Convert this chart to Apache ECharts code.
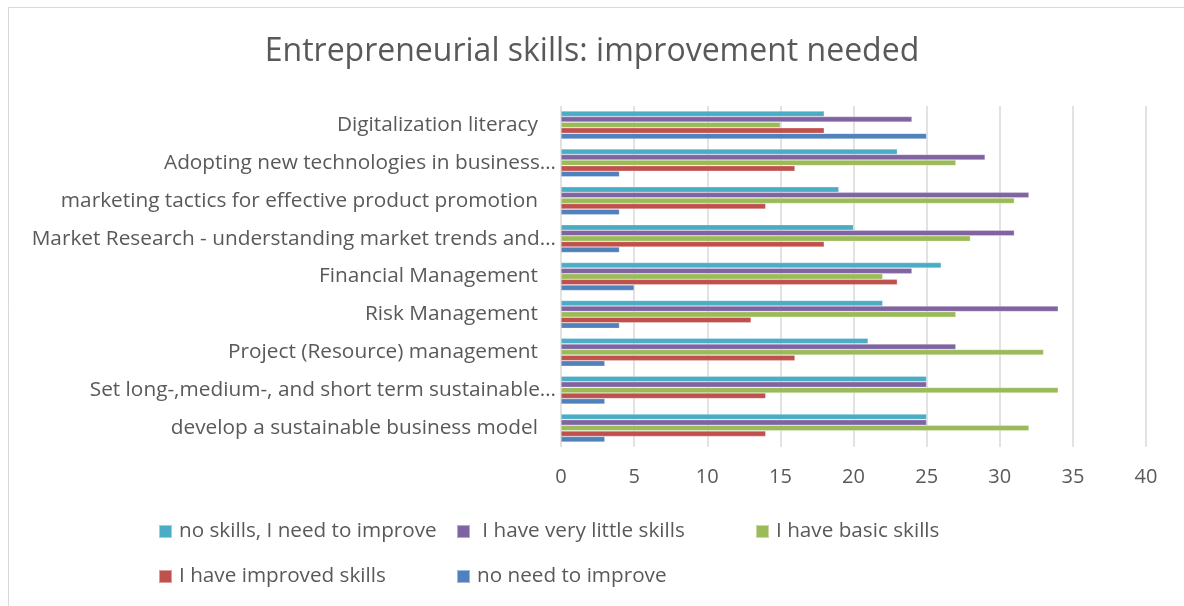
<!DOCTYPE html>
<html>
<head>
<meta charset="utf-8">
<title>Entrepreneurial skills</title>
<script src="https://cdn.jsdelivr.net/npm/echarts@6/dist/echarts.min.js"></script>
<style>
    html, body { margin: 0; padding: 0; background: #fff; }
    #chart { width: 1184px; height: 606px; }
</style>
</head>
<body>
<div id="chart"></div>
<script>
// categories, bottom to top (as the y axis draws them)
var skills = [
    'develop a sustainable business model',
    'Set long-,medium-, and short term sustainable…',
    'Project (Resource) management',
    'Risk Management',
    'Financial Management',
    'Market Research - understanding market trends and…',
    'marketing tactics for effective product promotion',
    'Adopting new technologies in business…',
    'Digitalization literacy'
];

// values in the same order as skills
var noSkills    = [25, 25, 21, 22, 26, 20, 19, 23, 18];
var veryLittle  = [25, 25, 27, 34, 24, 31, 32, 29, 24];
var basicSkills = [32, 34, 33, 27, 22, 28, 31, 27, 15];
var improved    = [14, 14, 16, 13, 23, 18, 14, 16, 18];
var noNeed      = [3, 3, 3, 4, 5, 4, 4, 4, 25];

var xTicks = [0, 40, 5]; // min, max, interval

var textColor = '#595959';
var font = 'Open Sans';

function bar(name, color, data) {
    return {
        name: name,
        type: 'bar',
        data: data,
        barWidth: 5.6,
        barGap: '0%',
        itemStyle: { color: color, borderColor: 'rgba(255,255,255,0.45)', borderWidth: 0.6 }
    };
}

var chart = echarts.init(document.getElementById('chart'));
var legendText = { color: textColor, fontSize: 20.7, fontFamily: font, padding: [0, 0, 0, 2] };
var option = {
    animation: false,
    backgroundColor: '#fff',
    title: {
        text: 'Entrepreneurial skills: improvement needed',
        left: 'center',
        top: 31,
        textStyle: { color: textColor, fontSize: 32, fontWeight: 'normal', fontFamily: font }
    },
    graphic: [{
        type: 'rect',
        shape: { x: 8.5, y: 7.5, width: 1200, height: 700 },
        style: { fill: 'none', stroke: '#d9d9d9', lineWidth: 1 },
        silent: true
    }],
    // three legend columns, so the items line up like the original
    legend: [
        { data: ['no skills, I need to improve', 'I have improved skills'], orient: 'vertical', left: 153, top: 516,
          itemWidth: 13, itemHeight: 13, itemGap: 24, textStyle: legendText, icon: 'rect' },
        { data: [' I have very little skills', 'no need to improve'], orient: 'vertical', left: 451, top: 516,
          itemWidth: 13, itemHeight: 13, itemGap: 24, textStyle: legendText, icon: 'rect' },
        { data: ['I have basic skills'], orient: 'vertical', left: 750, top: 516,
          itemWidth: 13, itemHeight: 13, textStyle: legendText, icon: 'rect' }
    ],
    grid: { left: 561, right: 38, top: 106, bottom: 159 },
    xAxis: {
        type: 'value',
        min: xTicks[0],
        max: xTicks[1],
        interval: xTicks[2],
        axisLine: { show: false },
        axisTick: { show: false },
        axisLabel: { color: textColor, fontSize: 20, fontFamily: font, margin: 20 },
        splitLine: { lineStyle: { color: '#d9d9d9', width: 1.5 } }
    },
    yAxis: {
        type: 'category',
        data: skills,
        axisLine: { show: false },
        axisTick: { show: false },
        axisLabel: {
            color: textColor, fontSize: 20.8, fontFamily: font, margin: 5,
            // labels that were not cut short carry trailing space in the original
            formatter: function (v) {
                return v.slice(-1) === '…' ? v : v + '{pad|}';
            },
            rich: { pad: { width: 18 } }
        }
    },
    series: [
        bar('no skills, I need to improve', '#4BACC6', noSkills),
        bar(' I have very little skills', '#8064A2', veryLittle),
        bar('I have basic skills', '#9BBB59', basicSkills),
        bar('I have improved skills', '#C0504D', improved),
        bar('no need to improve', '#4F81BD', noNeed)
    ]
};
chart.setOption(option);
</script>
</body>
</html>
